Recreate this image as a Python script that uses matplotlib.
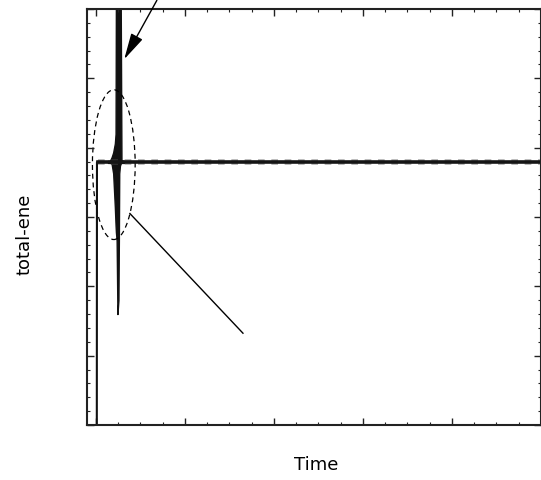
import matplotlib
matplotlib.use('Agg')
from matplotlib import pyplot as plt
from matplotlib.patches import Ellipse
from matplotlib.ticker import MultipleLocator, NullFormatter
import numpy as np

# start-up jump of the signal
start_t = [0.01, 0.012, 0.02]
start_y = [-0.6, 3.79, 3.79]

# envelope of the oscillation burst around t ~ 0.25
burst_t = [0.135, 0.157, 0.176, 0.194, 0.213, 0.221, 0.225, 0.233, 0.242,
           0.253, 0.258, 0.262, 0.270, 0.278, 0.287, 0.315]
burst_hi = [3.81, 3.81, 3.86, 3.93, 4.06, 4.20, 6.30, 6.30, 6.30,
            6.30, 6.30, 6.30, 6.30, 6.30, 3.82, 3.81]
burst_lo = [3.78, 3.78, 3.77, 3.63, 3.14, 2.88, 2.78, 2.66, 1.60,
            1.80, 2.66, 3.63, 3.74, 3.77, 3.78, 3.78]

# settled level after the burst
flat_t = [0.02, 5.1]
flat_y = [3.79, 3.79]

fig = plt.figure(figsize=(5.41, 4.8), dpi=100)
ax = fig.add_axes([87 / 541, 1 - 425 / 480, 454 / 541, 416 / 480])

ax.plot(start_t, start_y, color='#111111', lw=1.5)
ax.plot(flat_t, flat_y, color='#555555', lw=4.0, ls=(0, (1.2, 1.2)), alpha=0.5)
ax.plot(flat_t, flat_y, color='#151515', lw=2.6)
ax.fill_between(burst_t, burst_lo, burst_hi, color='#111111', lw=1.0,
                edgecolor='#111111')

# dashed ellipse round the burst
ax.add_patch(Ellipse((0.201, 3.755), 0.48, 2.16, fill=False, ls=(0, (4, 3)),
                     lw=0.9, color='black'))

# arrow pointing at the spike
ax.annotate('', xy=(0.303, 5.24), xytext=(0.70, 6.16),
            arrowprops=dict(arrowstyle='-|>,head_length=0.9,head_width=0.22',
                            color='black', lw=1.0, mutation_scale=18),
            annotation_clip=False)

# leader line from ellipse
ax.plot([0.382, 1.652], [3.05, 1.324], color='black', lw=1.0)

ax.set_xlim(-0.1, 5.0)
ax.set_ylim(0, 6)
ax.xaxis.set_major_locator(MultipleLocator(1))
ax.xaxis.set_minor_locator(MultipleLocator(0.25))
ax.yaxis.set_major_locator(MultipleLocator(1))
ax.yaxis.set_minor_locator(MultipleLocator(0.2))
ax.xaxis.set_major_formatter(NullFormatter())
ax.yaxis.set_major_formatter(NullFormatter())
ax.tick_params(which='both', direction='in', top=True, right=True, color='#222222')
ax.tick_params(which='major', length=5, width=1.0)
ax.tick_params(which='minor', length=2.5, width=0.8)
for s in ax.spines.values():
    s.set_linewidth(1.5)
    s.set_color('#222222')

fig.text(316 / 541, 1 - 465 / 480, 'Time', ha='center', va='center', fontsize=13)
fig.text(25 / 541, 1 - 234 / 480, 'total-ene', ha='center', va='center',
         rotation=90, fontsize=13)

fig.savefig('out.png', dpi=100)
